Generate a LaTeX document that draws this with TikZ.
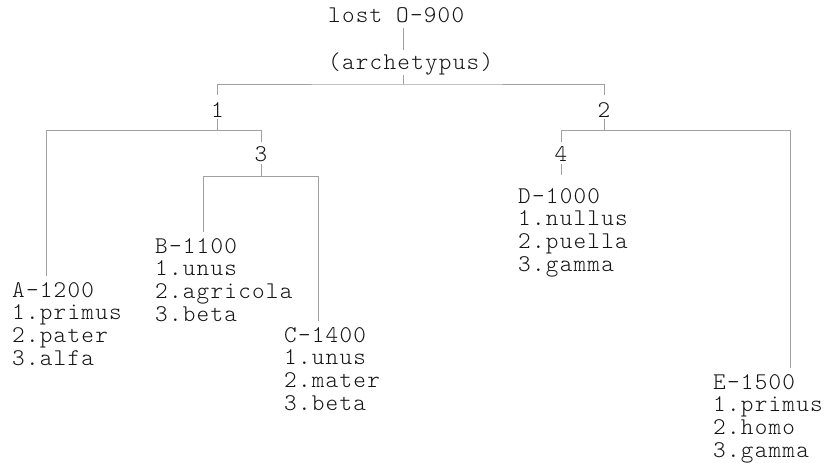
\documentclass[tikz,border=0pt]{standalone}
\usepackage{fontspec}
\newfontfamily\cour{lmmonolt10-regular.otf}[LetterSpace=5.2]
\definecolor{linegray}{RGB}{160,160,160}
\definecolor{inkc}{RGB}{20,20,20}
% one manuscript: siglum line plus three readings, first baseline is the node base
\newcommand\wit[4]{\vtop{\hbox{\rule{0pt}{20.5pt}#1}\hbox{#2}\hbox{#3}\hbox{#4}}}
\tikzset{
  conn/.style={draw=linegray, line width=1pt},
  txt/.style={font=\cour\fontsize{24}{22.7}\selectfont, inner sep=0pt, text=inkc},
  lvlone/.style={txt, text height=22pt, text depth=2pt, anchor=base},
  lvltwo/.style={txt, text height=19pt, text depth=3pt, anchor=base},
  leaf/.style={txt, anchor=base west},
}
\begin{document}
\begin{tikzpicture}[x=1pt, y=-1pt]
  \useasboundingbox (0,0) rectangle (827,463);

  % archetype
  \node[txt, anchor=base west, text depth=5pt] (lost) at (328,23) {lost O-900};
  \node[txt, anchor=base west, text height=19pt, text depth=6pt] (arch) at (328,69) {(archetypus)};

  % hyparchetypes
  \node[lvlone] (n1) at (217.5,117) {1};
  \node[lvlone] (n2) at (604,117) {2};
  \node[lvltwo] (n3) at (261,161) {3};
  \node[lvltwo] (n4) at (561,161) {4};

  % extant witnesses
  \node[leaf] (A) at (12,297)  {\wit{A-1200}{1.primus}{2.pater}{3.alfa}};
  \node[leaf] (B) at (155,253) {\wit{B-1100}{1.unus}{2.agricola}{3.beta}};
  \node[leaf] (C) at (284,342) {\wit{C-1400}{1.unus}{2.mater}{3.beta}};
  \node[leaf] (D) at (518,203) {\wit{D-1000}{1.nullus}{2.puella}{3.gamma}};
  \node[leaf] (E) at (713,389) {\wit{E-1500}{1.primus}{2.homo}{3.gamma}};

  % junctions on the horizontal bars
  \coordinate (jtop) at (403,84);
  \coordinate (jA) at (46,130);
  \coordinate (jB) at (203,176);
  \coordinate (jC) at (318,176);
  \coordinate (jE) at (790,130);

  % stemma lines
  \draw[conn] (lost.south -| jtop) -- (arch.north -| jtop);
  \draw[conn] (arch.south -| jtop) -- (jtop);
  \draw[conn] (n1.north) |- (jtop) -| (n2.north);

  \draw[conn] (n1.south) -- (n1.south |- jA);
  \draw[conn] (n3.north) |- (jA) -- (jA |- A.north);

  \draw[conn] (n3.south) -- (n3.south |- jB);
  \draw[conn] (jB |- B.north) -- (jB) -- (jC) -- (jC |- C.north);

  \draw[conn] (n2.south) -- (n2.south |- jE);
  \draw[conn] (n4.north) |- (jE) -- (jE |- E.north);
  \draw[conn, shorten >=7.5pt] (n4.south) -- (n4.south |- D.north);
\end{tikzpicture}
\end{document}
